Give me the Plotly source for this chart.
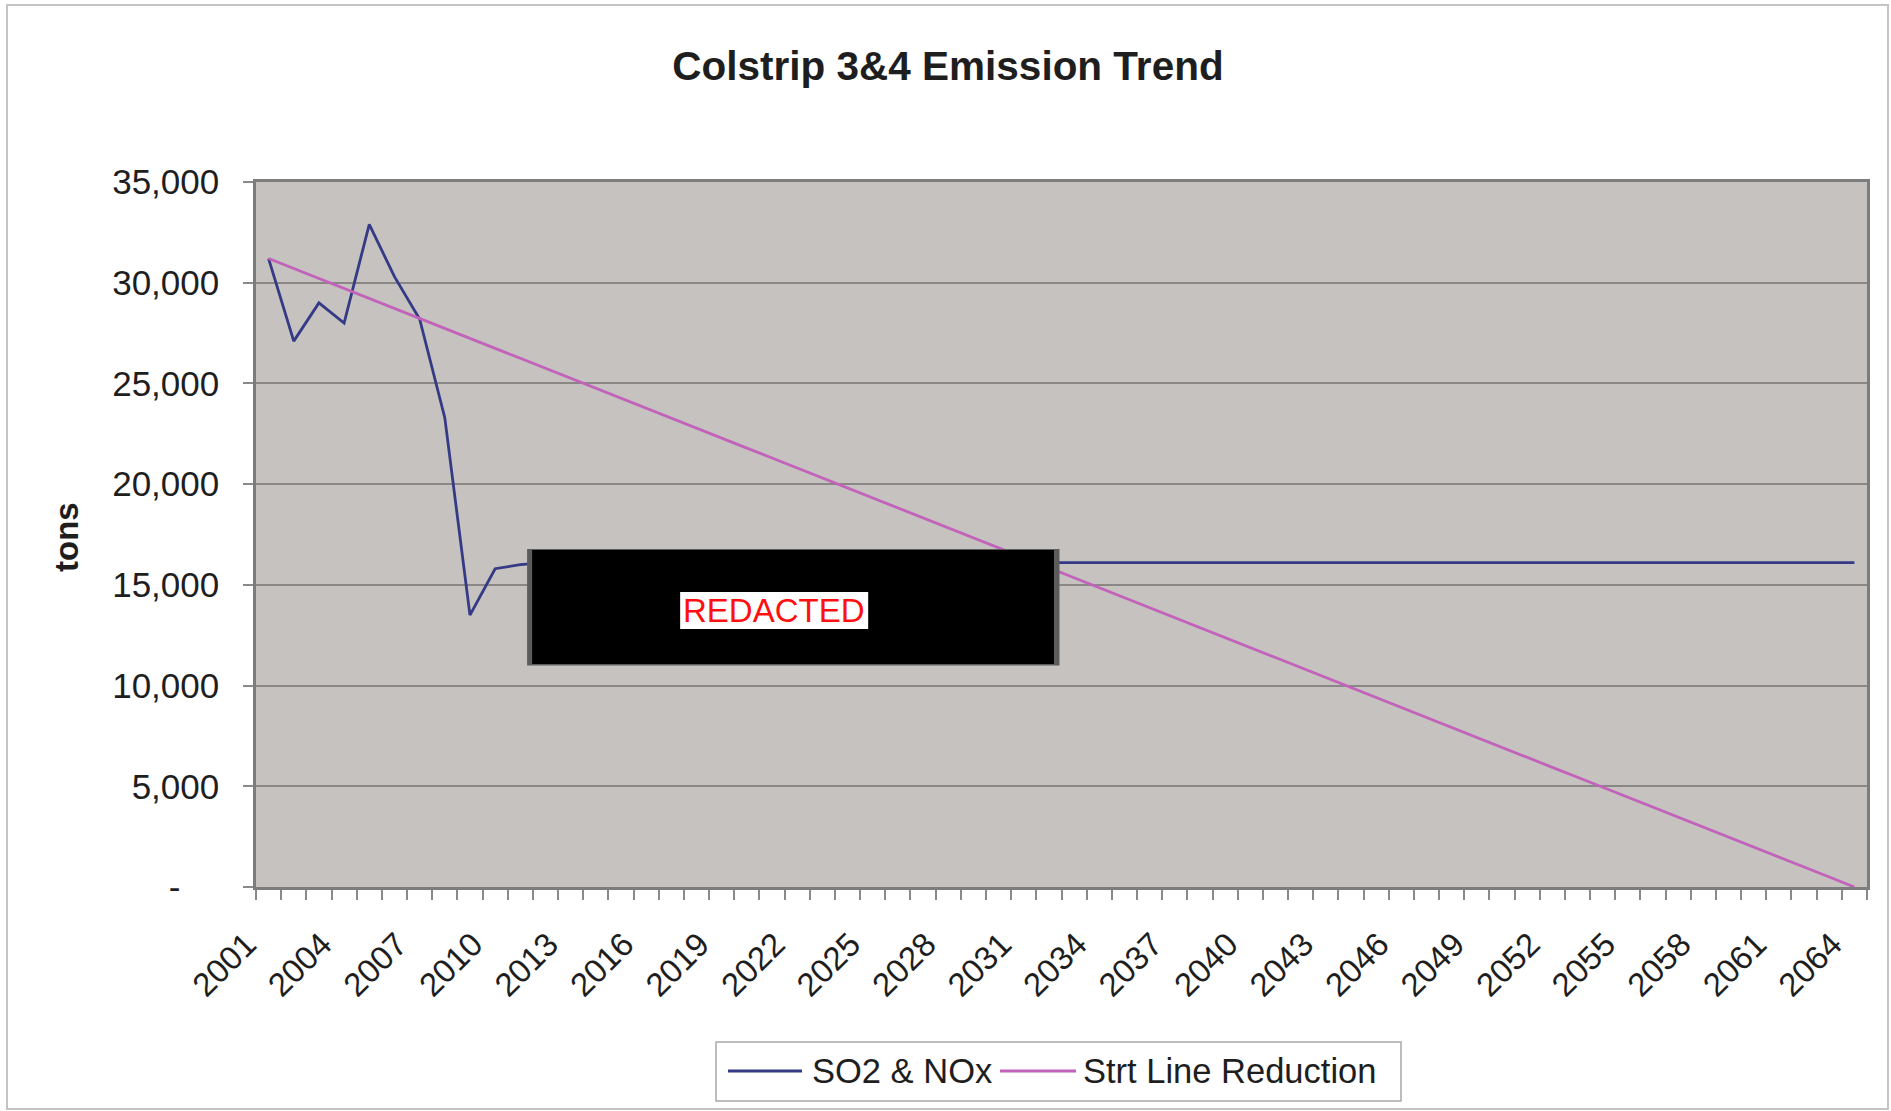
import plotly.graph_objects as go

# ---------------- data ----------------
years = list(range(2001, 2065))

so2_nox = [31200, 27100, 29000, 28000, 32900, 30300, 28200, 23300, 13500, 15800,
           16000, 16100, 16100, 16100, 16100, 16100, 16100, 16100, 16100, 16100,
           16100, 16100, 16100, 16100, 16100, 16100, 16100, 16100, 16100, 16100,
           16100, 16100, 16100, 16100, 16100, 16100, 16100, 16100, 16100, 16100,
           16100, 16100, 16100, 16100, 16100, 16100, 16100, 16100, 16100, 16100,
           16100, 16100, 16100, 16100, 16100, 16100, 16100, 16100, 16100, 16100,
           16100, 16100, 16100, 16100]

strt_line = [31200, 30700, 30210, 29710, 29220, 28720, 28230, 27730, 27240, 26740,
             26250, 25750, 25260, 24760, 24270, 23770, 23280, 22780, 22290, 21790,
             21300, 20800, 20310, 19810, 19310, 18820, 18320, 17830, 17330, 16840,
             16340, 15850, 15350, 14860, 14360, 13870, 13370, 12880, 12380, 11890,
             11390, 10900, 10400, 9900, 9410, 8910, 8420, 7920, 7430, 6930,
             6440, 5940, 5450, 4950, 4460, 3960, 3470, 2970, 2480, 1980,
             1490, 990, 500, 0]

series_names = ["SO2 & NOx", "Strt Line Reduction"]
series_colors = ["#353a86", "#c262ba"]

x_tick_years = [2001, 2004, 2007, 2010, 2013, 2016, 2019, 2022, 2025, 2028, 2031,
                2034, 2037, 2040, 2043, 2046, 2049, 2052, 2055, 2058, 2061, 2064]
x_tick_labels = [str(y) for y in x_tick_years]

y_tick_vals = [0, 5000, 10000, 15000, 20000, 25000, 30000, 35000]
y_tick_labels = ["-\u00a0\u00a0\u00a0\u00a0", "5,000", "10,000", "15,000", "20,000",
                 "25,000", "30,000", "35,000"]

FONT = "Liberation Sans, Arial, sans-serif"
TXT = "#1e1e1e"

# plot-area geometry (pixels) used to place paper-referenced decorations
PL, PT, PW, PH = 256, 182, 1611, 705
def px(xp):
    return (xp - PL) / PW
def py(yp):
    return (PT + PH - yp) / PH

fig = go.Figure()
fig.add_trace(go.Scatter(x=years, y=so2_nox, mode="lines", name=series_names[0],
                         line=dict(color=series_colors[0], width=2.8), showlegend=False))
fig.add_trace(go.Scatter(x=years, y=strt_line, mode="lines", name=series_names[1],
                         line=dict(color=series_colors[1], width=2.8), showlegend=False))

fig.update_layout(
    width=1891, height=1111,
    margin=dict(l=PL, r=1891 - PL - PW, t=PT, b=1111 - PT - PH),
    paper_bgcolor="white",
    plot_bgcolor="#c5c2bf",
    font=dict(family=FONT, color=TXT),
    title=dict(text="<b>Colstrip 3&4 Emission Trend</b>", x=0.5013, xanchor="center",
               y=1 - 66 / 1111, yanchor="middle", xref="container", yref="container",
               font=dict(size=40.5, family=FONT, color=TXT)),
    showlegend=False,
)

fig.update_xaxes(
    range=[2000.5, 2064.5],
    tickmode="array", tickvals=x_tick_years, ticktext=x_tick_labels,
    tickangle=-45, ticks="", tickfont=dict(size=33, family=FONT, color=TXT),
    ticklabelstandoff=22, ticklabelshift=-22,
    showgrid=False, zeroline=False,
    showline=True, linecolor="#7c7c7c", linewidth=2.5, mirror=True,
    minor=dict(tickmode="linear", tick0=2000.5, dtick=1, ticks="outside",
               ticklen=10, tickwidth=1.5, tickcolor="#8a8a8a", showgrid=False),
)
fig.update_yaxes(
    range=[0, 35000],
    tickmode="array", tickvals=y_tick_vals, ticktext=y_tick_labels,
    ticks="outside", ticklen=10, tickwidth=1.5, tickcolor="#8a8a8a",
    tickfont=dict(size=35, family=FONT, color=TXT),
    ticklabelstandoff=17,
    showgrid=True, gridcolor="#8a8886", gridwidth=1.5, zeroline=False,
    showline=True, linecolor="#7c7c7c", linewidth=2.5, mirror=True,
)

# y-axis title
fig.add_annotation(text="<b>tons</b>", xref="paper", yref="paper",
                   x=px(66), y=py(537), showarrow=False,
                   textangle=-90, font=dict(size=33, family=FONT, color=TXT),
                   xanchor="center", yanchor="middle")

# outer chart border
fig.add_shape(type="rect", xref="paper", yref="paper",
              x0=px(7), x1=px(1888), y0=py(1109), y1=py(5),
              line=dict(color="#c4c4c4", width=2), fillcolor="rgba(0,0,0,0)", layer="below")

# legend (box, line samples, labels)
fig.add_shape(type="rect", xref="paper", yref="paper",
              x0=px(716), x1=px(1401), y0=py(1101), y1=py(1042),
              line=dict(color="#a8a8a8", width=1.5), fillcolor="white")
legend_items = [(728, 802, 810), (1000, 1076, 1081)]
for (lx0, lx1, tx), name, color in zip(legend_items, series_names, series_colors):
    fig.add_shape(type="line", xref="paper", yref="paper",
                  x0=px(lx0), x1=px(lx1), y0=py(1071), y1=py(1071),
                  line=dict(color=color, width=2.8))
    fig.add_annotation(text=name, xref="paper", yref="paper", x=px(tx), y=py(1071),
                       showarrow=False, xanchor="left", yanchor="middle",
                       font=dict(size=34.5, family=FONT, color=TXT))

# redaction box (shadow, black box, white label)
fig.add_shape(type="rect", xref="x", yref="y", x0=2011.27, x1=2032.42, y0=11000, y1=16780,
              line=dict(width=0), fillcolor="#5c5c5c", layer="above")
fig.add_shape(type="rect", xref="x", yref="y", x0=2011.47, x1=2032.2, y0=11072, y1=16732,
              line=dict(width=0), fillcolor="#000000", layer="above")
fig.add_shape(type="rect", xref="x", yref="y", x0=2017.35, x1=2024.82, y0=12810, y1=14647,
              line=dict(width=0), fillcolor="#ffffff", layer="above")
fig.add_annotation(text="REDACTED", xref="x", yref="y", x=2021.08, y=13730,
                   showarrow=False, font=dict(size=33, family=FONT, color="#ff1010"),
                   xanchor="center", yanchor="middle")

fig.write_html("out.html", config={"displayModeBar": False},
               post_script="document.body.style.margin='0';")
